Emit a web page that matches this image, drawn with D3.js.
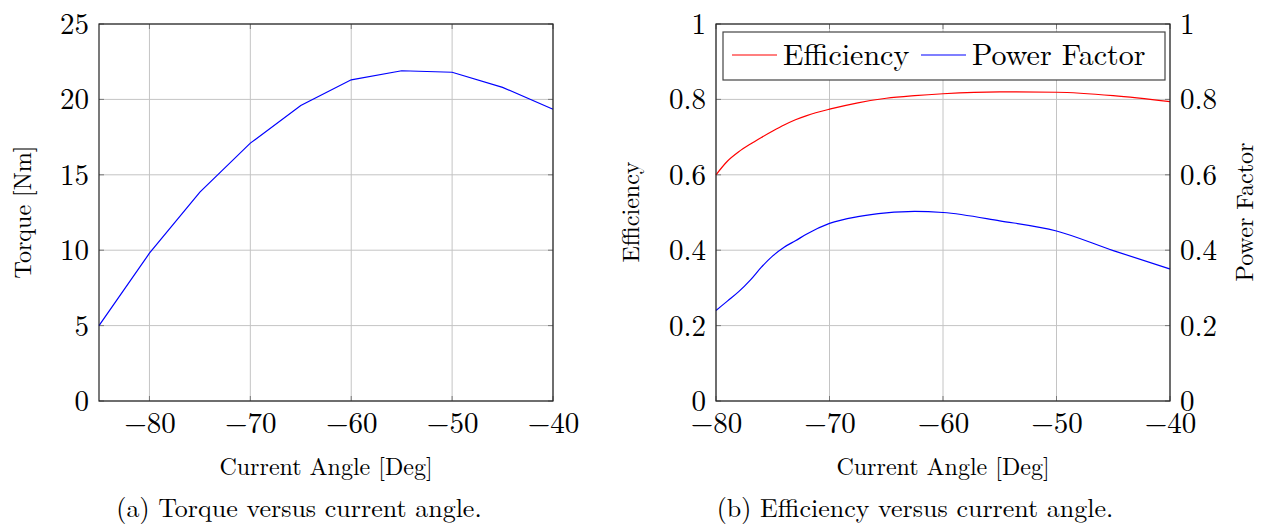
<!DOCTYPE html>
<meta charset="utf-8">
<style>
body { margin: 0; background: #fff; }
.grid line { stroke: #c4c4c4; stroke-width: 1; }
.tick-mark { stroke: #7a7a7a; stroke-width: 1; }
.frame { fill: none; stroke: #222; stroke-width: 1.2; }
</style>
<body>
<script src="https://d3js.org/d3.v7.min.js"></script>
<script>

// data
var torqueAngle = [-85, -80, -75, -70, -65, -60, -55, -50, -45, -40];
var torque = [5.0, 9.8, 13.85, 17.1, 19.6, 21.3, 21.9, 21.8, 20.8, 19.35];

var effAngle = [-80, -79, -78, -77, -76, -75, -74, -73, -72, -70, -67.5, -65, -62.5, -60, -55, -50, -45, -40];
var efficiency = [0.600, 0.636, 0.661, 0.681, 0.699, 0.716, 0.732, 0.746, 0.757, 0.774, 0.791, 0.803, 0.810, 0.815, 0.820, 0.819, 0.810, 0.794];
var powerFactor = [0.240, 0.265, 0.290, 0.320, 0.355, 0.385, 0.408, 0.425, 0.443, 0.471, 0.489, 0.499, 0.503, 0.500, 0.478, 0.451, 0.399, 0.350];

var angleTicks = [-80, -70, -60, -50, -40];
var torqueTicks = [0, 5, 10, 15, 20, 25];
var ratioTicks = [0, 0.2, 0.4, 0.6, 0.8, 1];

var W = 1261, H = 529;
var FONT = "'Latin Modern Roman', 'Liberation Serif', serif";
var svg = d3.select("body").append("svg")
    .attr("width", W)
    .attr("height", H);

var fmt = function(d) { return d < 0 ? "\u2212" + Math.abs(d) : String(d); };
var tickFont = 29, labelFont = 24, capFont = 26, legendFont = 30;

function addText(parent, size) {
  return parent.append("text")
      .style("font-family", FONT)
      .attr("font-size", size)
      .attr("fill", "#000");
}

function panel(opts) {
  var x = d3.scaleLinear().domain(opts.xDomain).range([opts.left, opts.right]);
  var y = d3.scaleLinear().domain(opts.yDomain).range([401, 24]);
  var g = svg.append("g");

  // grid
  var grid = g.append("g").attr("class", "grid");
  grid.selectAll(".gx").data(opts.xTicks).enter().append("line")
      .attr("x1", d => x(d)).attr("x2", d => x(d))
      .attr("y1", y.range()[1]).attr("y2", y.range()[0]);
  grid.selectAll(".gy").data(opts.yTicks).enter().append("line")
      .attr("x1", opts.left).attr("x2", opts.right)
      .attr("y1", d => y(d)).attr("y2", d => y(d));

  // inner tick marks on all sides
  var tl = 5;
  var marks = g.append("g");
  opts.xTicks.forEach(function(d) {
    marks.append("line").attr("class", "tick-mark")
      .attr("x1", x(d)).attr("x2", x(d)).attr("y1", 401).attr("y2", 401 - tl);
    marks.append("line").attr("class", "tick-mark")
      .attr("x1", x(d)).attr("x2", x(d)).attr("y1", 24).attr("y2", 24 + tl);
  });
  opts.yTicks.forEach(function(d) {
    marks.append("line").attr("class", "tick-mark")
      .attr("x1", opts.left).attr("x2", opts.left + tl).attr("y1", y(d)).attr("y2", y(d));
    marks.append("line").attr("class", "tick-mark")
      .attr("x1", opts.right).attr("x2", opts.right - tl).attr("y1", y(d)).attr("y2", y(d));
  });

  // series
  opts.series.forEach(function(s) {
    var line = d3.line()
        .x((d, i) => x(opts.xData[i]))
        .y(d => y(d))
        .curve(s.curve);
    g.append("path")
        .datum(s.values)
        .attr("fill", "none")
        .attr("stroke", s.color)
        .attr("stroke-width", 1.2)
        .attr("d", line);
  });

  // frame
  g.append("rect").attr("class", "frame")
      .attr("x", opts.left).attr("y", 24)
      .attr("width", opts.right - opts.left).attr("height", 377);

  // tick labels via d3 axes (no lines)
  var axes = [];
  axes.push(g.append("g")
      .attr("transform", "translate(0,401)")
      .call(d3.axisBottom(x).tickValues(opts.xTicks).tickFormat(fmt).tickSize(0).tickPadding(32)));
  axes.push(g.append("g")
      .attr("transform", "translate(" + opts.left + ",0)")
      .call(d3.axisLeft(y).tickValues(opts.yTicks).tickFormat(fmt).tickSize(0).tickPadding(10)));
  if (opts.rightAxis) {
    axes.push(g.append("g")
        .attr("transform", "translate(" + opts.right + ",0)")
        .call(d3.axisRight(y).tickValues(opts.yTicks).tickFormat(fmt).tickSize(0).tickPadding(10)));
  }
  axes.forEach(function(a, i) {
    a.select(".domain").remove();
    a.selectAll("text")
        .style("font-family", FONT)
        .attr("font-size", tickFont)
        .attr("fill", "#000")
        .attr("dy", i === 0 ? 0 : "0.33em");
  });

  var cx = (opts.left + opts.right) / 2;
  addText(g, labelFont)
      .attr("x", cx).attr("y", 475)
      .attr("text-anchor", "middle")
      .text("Current Angle [Deg]");

  addText(g, labelFont)
      .attr("transform", "translate(" + opts.yLabelX + ",212) rotate(-90)")
      .attr("text-anchor", "middle")
      .text(opts.yLabel);

  if (opts.y2Label) {
    addText(g, labelFont)
        .attr("transform", "translate(" + opts.y2LabelX + ",212) rotate(-90)")
        .attr("text-anchor", "middle")
        .text(opts.y2Label);
  }

  addText(g, capFont)
      .attr("x", opts.capX).attr("y", 517)
      .attr("text-anchor", "middle")
      .text(opts.caption);

  return {x: x, y: y, g: g};
}

panel({
  left: 99, right: 553,
  xDomain: [-85, -40], yDomain: [0, 25],
  xTicks: angleTicks, yTicks: torqueTicks,
  xData: torqueAngle,
  series: [{values: torque, color: "#0000ff", curve: d3.curveLinear}],
  yLabel: "Torque [Nm]", yLabelX: 31,
  caption: "(a) Torque versus current angle.", capX: 299
});

var p2 = panel({
  left: 716, right: 1170,
  xDomain: [-80, -40], yDomain: [0, 1],
  xTicks: angleTicks, yTicks: ratioTicks,
  xData: effAngle,
  series: [
    {values: efficiency, color: "#ff0000", curve: d3.curveMonotoneX},
    {values: powerFactor, color: "#0000ff", curve: d3.curveMonotoneX}
  ],
  rightAxis: true,
  yLabel: "Efficiency", yLabelX: 639,
  y2Label: "Power Factor", y2LabelX: 1253,
  caption: "(b) Efficiency versus current angle.", capX: 915
});

// legend
var lg = p2.g.append("g");
lg.append("rect")
    .attr("x", 723).attr("y", 32).attr("width", 442).attr("height", 48)
    .attr("fill", "#fff").attr("stroke", "#444").attr("stroke-width", 1.2);
var legendItems = [
  {name: "Efficiency", color: "#ff0000", x: 732},
  {name: "Power Factor", color: "#0000ff", x: 921}
];
legendItems.forEach(function(d) {
  lg.append("line")
      .attr("x1", d.x).attr("x2", d.x + 45).attr("y1", 55).attr("y2", 55)
      .attr("stroke", d.color).attr("stroke-width", 1.2);
  addText(lg, legendFont)
      .attr("x", d.x + 51).attr("y", 65)
      .text(d.name);
});

</script>
</body>
